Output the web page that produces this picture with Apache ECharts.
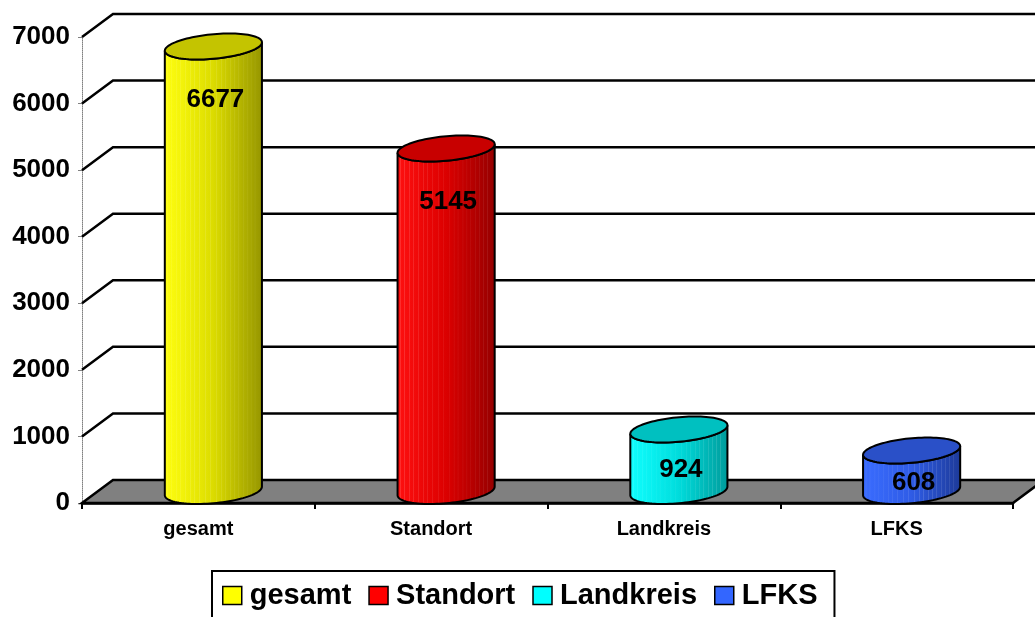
<!DOCTYPE html>
<html><head><meta charset="utf-8">
<script src="https://cdn.jsdelivr.net/npm/echarts@6/dist/echarts.min.js"></script>
<style>html,body{margin:0;padding:0;background:#fff;overflow:hidden}#c{width:1035px;height:617px}</style>
</head><body><div id="c"></div>
<script>
// ---- data ----
const categories = ['gesamt', 'Standort', 'Landkreis', 'LFKS'];
const values = [6677, 5145, 924, 608];
const yTicks = [0, 1000, 2000, 3000, 4000, 5000, 6000, 7000];
// ---- colours ----
const legendColors = ['#ffff00', '#ff0000', '#00ffff', '#3366ff'];
const sideColors = [
  ['#ffff10', '#dcdc00', '#959500'],
  ['#ff1010', '#dc0000', '#940000'],
  ['#10ffff', '#00dcdc', '#009a9a'],
  ['#3a6cff', '#2f5ce6', '#1d3a98']
];
const topColors = ['#c4c400', '#c80000', '#00c0c0', '#2a50c8'];

const FONT = 'Arial, "Liberation Sans", sans-serif';
const DEPTH = [31, -23];   // back wall offset
const MID = [15, -12];     // cylinder centre offset
const EV = [16, -13];      // ellipse depth axis

function hex2rgb(h){h=h.replace('#','');return [parseInt(h.substr(0,2),16),parseInt(h.substr(2,2),16),parseInt(h.substr(4,2),16)];}
function rgb2str(c){return 'rgb('+c.map(v=>Math.round(Math.max(0,Math.min(255,v)))).join(',')+')';}
function mix(a,b,t){return a.map((v,i)=>v+(b[i]-v)*t);}
function baseAt(cols,p){
  const c=cols.map(hex2rgb);
  return p<0.5?mix(c[0],c[1],p/0.5):mix(c[1],c[2],(p-0.5)/0.5);
}
const stripePos=[0.04,0.08,0.13,0.17,0.22,0.27,0.31,0.36,0.42,0.47,0.53,0.58,0.62,0.67,0.71,0.75,0.8,0.84,0.88,0.92];
function sideGradient(cols){
  const stops=[{offset:0,color:rgb2str(baseAt(cols,0))}];
  stripePos.forEach(p=>{
    const b=baseAt(cols,p);
    stops.push({offset:p-0.006,color:rgb2str(b)});
    stops.push({offset:p,color:rgb2str(mix(b,[255,255,255],0.13))});
    stops.push({offset:p+0.006,color:rgb2str(b)});
  });
  stops.push({offset:0.97,color:rgb2str(baseAt(cols,0.97))});
  stops.push({offset:1,color:rgb2str(mix(baseAt(cols,1),[0,0,0],0.15))});
  return new echarts.graphic.LinearGradient(0,0,1,0,stops);
}

function gridRender(params, api){
  const cs = params.coordSys;
  const y = api.coord([0, api.value(1)])[1];
  const x0 = cs.x, x1 = cs.x + cs.width;
  if (api.value(1) === 0) {
    return {type:'polygon', shape:{points:[[x0,y],[x1,y],[x1+DEPTH[0],y+DEPTH[1]],[x0+DEPTH[0],y+DEPTH[1]]]},
      style:{fill:'#808080', stroke:'#000', lineWidth:2.5}};
  }
  return {type:'polyline', shape:{points:[[x0,y],[x0+DEPTH[0],y+DEPTH[1]],[x1+DEPTH[0]+40,y+DEPTH[1]]]},
    style:{fill:null, stroke:'#000', lineWidth:2.5}};
}

function cylRender(idx){
  const grad = sideGradient(sideColors[idx]);
  return function(params, api){
    const cat = api.value(0), val = api.value(1);
    const topF = api.coord([cat, val]);
    const baseF = api.coord([cat, 0]);
    const bw = api.size([1, 0])[0];
    const rx = bw * 0.197;
    const ct = [topF[0]+MID[0], topF[1]+MID[1]];
    const cb = [baseF[0]+MID[0], baseF[1]+MID[1]];
    const pt = (c,t)=>[c[0]+Math.cos(t)*rx+Math.sin(t)*EV[0], c[1]+Math.sin(t)*EV[1]];
    const t0 = Math.atan2(EV[0], rx);
    const N = 48;
    const body = [];
    for (let k=0;k<=N;k++){ const t=t0+Math.PI+Math.PI*k/N; body.push(pt(cb,t)); }
    for (let k=N;k>=0;k--){ const t=t0+Math.PI+Math.PI*k/N; body.push(pt(ct,t)); }
    const top = [];
    for (let k=0;k<96;k++){ top.push(pt(ct, 2*Math.PI*k/96)); }
    const h = baseF[1]-topF[1];
    const ly = topF[1] + Math.min(41, h*0.42+3);
    return {type:'group', children:[
      {type:'polygon', shape:{points:body}, style:{fill:grad, stroke:'#000', lineWidth:2}},
      {type:'polygon', shape:{points:top}, style:{fill:topColors[idx], stroke:'#000', lineWidth:2}},
      {type:'text', x: ct[0]+2, y: ly, style:{text:String(val), fill:'#000', font:'bold 26px '+FONT, align:'center', verticalAlign:'middle'}}
    ]};
  };
}

const chart = echarts.init(document.getElementById('c'), null, {renderer:'canvas'});
const series = [{
  type:'custom', name:'_grid', z:1, silent:true,
  data: yTicks.map(v=>[0, v]),
  renderItem: gridRender
}].concat(categories.map((c,i)=>({
  type:'custom', name:c, z:3, silent:true,
  itemStyle:{color:legendColors[i]},
  data:[[i, values[i]]],
  renderItem: cylRender(i)
})));

chart.setOption({
  animation:false,
  backgroundColor:'#fff',
  grid:{left:82, right:22, top:37, bottom:114, containLabel:false},
  xAxis:{type:'category', data:categories, boundaryGap:true,
    axisLine:{lineStyle:{color:'#000', width:2.5}},
    axisTick:{show:true, length:6, interval:0, lineStyle:{color:'#000', width:2}},
    axisLabel:{color:'#000', fontSize:20, fontWeight:'bold', fontFamily:FONT, margin:16, interval:0},
    splitLine:{show:false}},
  yAxis:{type:'value', min:0, max:7000, interval:1000,
    axisLine:{show:true, lineStyle:{color:'#808080', width:1, type:'dotted'}},
    axisTick:{show:true, length:4, lineStyle:{color:'#808080', width:1}},
    axisLabel:{color:'#000', fontSize:26, fontWeight:'bold', fontFamily:FONT, margin:12,
      formatter: v => String(v)},
    splitLine:{show:false}},
  legend:{data:categories, left:212, top:571, orient:'horizontal',
    borderColor:'#000', borderWidth:2, padding:[10,17,16,10], itemGap:17,
    itemWidth:19, itemHeight:18, icon:'rect',
    itemStyle:{borderColor:'#000', borderWidth:1.5},
    textStyle:{color:'#000', fontSize:29, fontWeight:'bold', fontFamily:FONT, padding:[0,0,0,3]}},
  series: series
});
</script></body></html>
